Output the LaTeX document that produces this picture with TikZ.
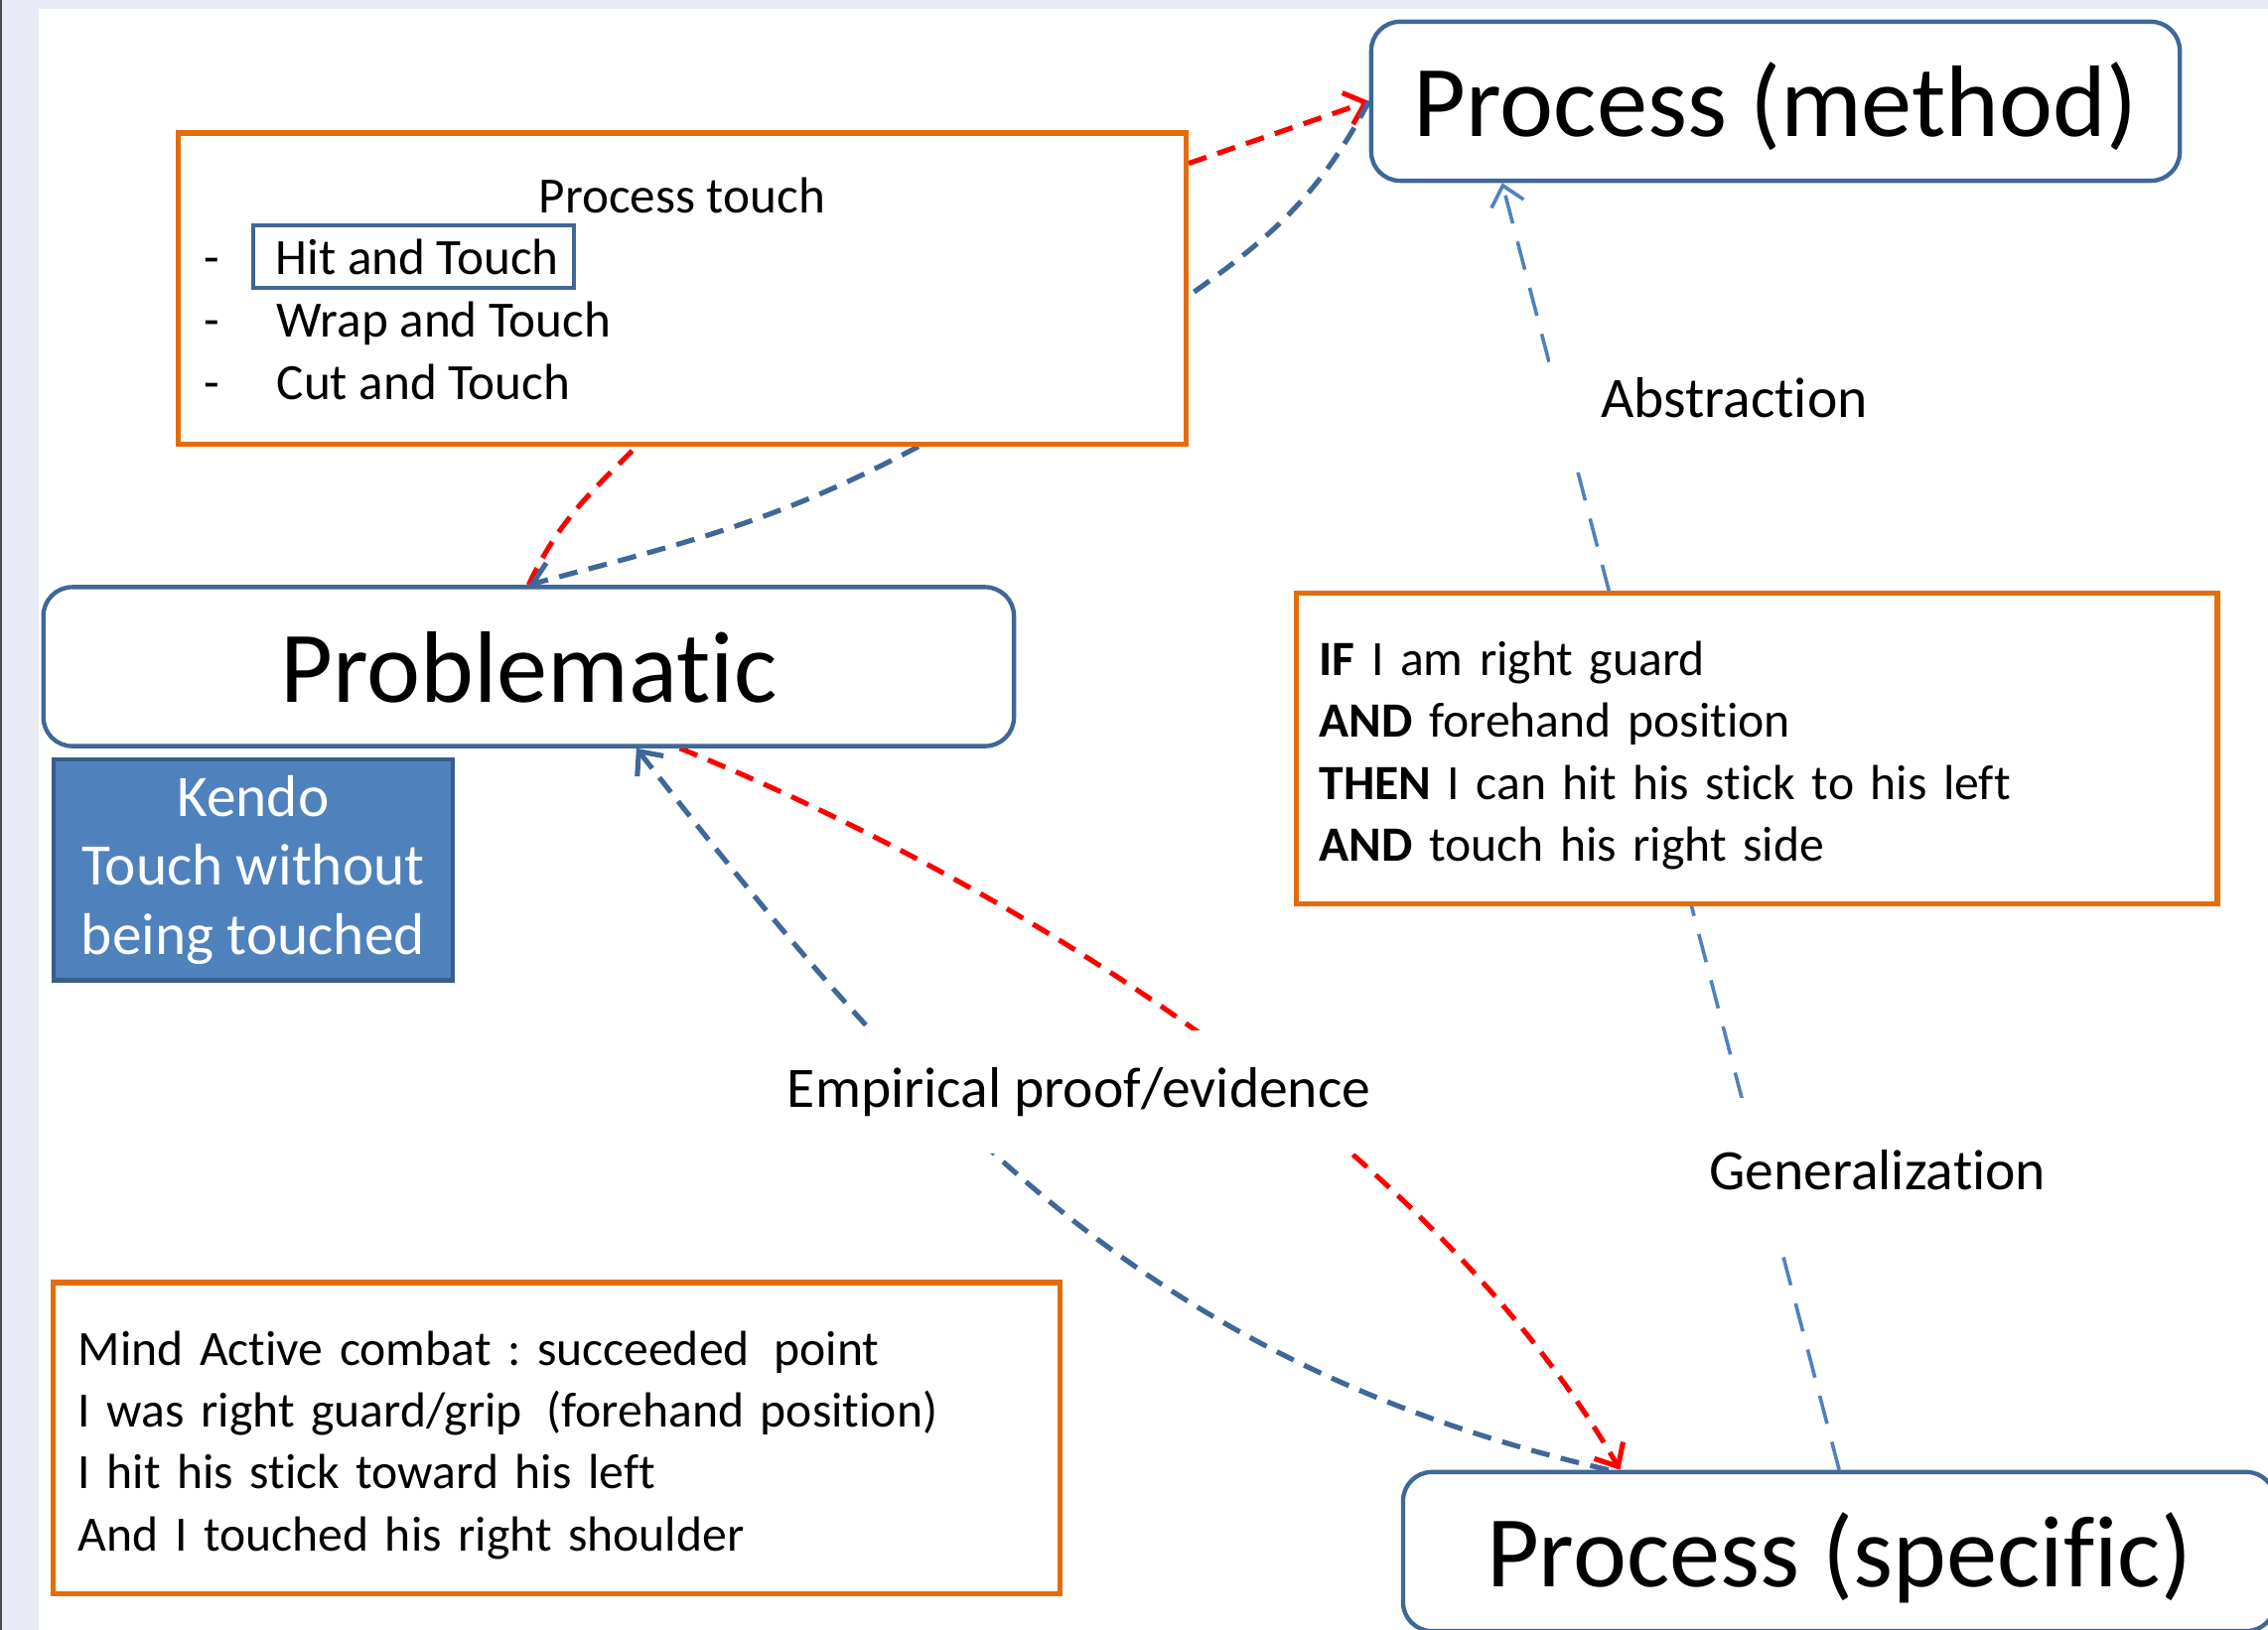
\documentclass[tikz,border=0pt]{standalone}
\usepackage{fontspec}
\setmainfont{Carlito}[Ligatures={NoCommon,NoRequired,NoContextual},Contextuals={NoAlternate}]
\usetikzlibrary{arrows.meta}
\definecolor{pageback}{RGB}{232,235,245}
\definecolor{boxorange}{RGB}{228,108,10}
\definecolor{boxblue}{RGB}{63,103,151}
\definecolor{kendoblue}{RGB}{79,129,189}
\definecolor{kendoline}{RGB}{56,93,138}
\pgfdeclarelayer{backdrop}
\pgfdeclarelayer{lines}
\pgfsetlayers{backdrop,lines,main}

\begin{document}
\begin{tikzpicture}[x=0.2mm, y=-0.2mm,
  >={Straight Barb[length=2.6mm,width=4.6mm]},
  bigbox/.style={draw=boxblue, line width=1.7pt, rounded corners=4mm, fill=white,
    minimum height=22mm, text height=29pt, text depth=1pt,
    font=\fontsize{40}{48}\selectfont},
  notebox/.style={draw=boxorange, line width=2pt, fill=white, align=left,
    inner xsep=3.2mm, minimum height=43mm, font=\fontsize{19.4}{24.4}\selectfont\frenchspacing},
  item/.style={anchor=base west, inner sep=0pt, font=\fontsize{20}{24.4}\selectfont},
  tag/.style={fill=white, inner xsep=7mm, minimum height=17mm,
    font=\fontsize{22.5}{27}\selectfont},
  redlink/.style={draw=red, line width=2pt, dash pattern=on 2.6mm off 1.6mm},
  bluelink/.style={draw=boxblue, line width=2pt, dash pattern=on 2.6mm off 1.6mm},
  thinlink/.style={draw=kendoblue, line width=1.4pt, dash pattern=on 4mm off 2.6mm}]
\useasboundingbox (0,0) rectangle (1568,1127);
\clip (0,0) rectangle (1568,1127);
% page
\begin{pgfonlayer}{backdrop}
\fill[pageback] (0,0) rectangle (1568,1127);
\fill[white] (27,6) rectangle (1568,1127);
\draw[gray!60!black, line width=0.4mm] (0.5,0) -- (0.5,1127);
\end{pgfonlayer}

% main boxes
\node[bigbox, minimum width=111.8mm] (method) at (1227.5,70) {Process (method)};
\node[bigbox, minimum width=134.2mm] (prob) at (365.5,461) {Problemat\kern0pt ic};
\node[bigbox, minimum width=120.6mm] (spec) at (1271.5,1073) {Process (speci\kern0pt f\kern0pt ic)};
\node[draw=kendoline, line width=1.7pt, fill=kendoblue, text=white, align=center,
  minimum width=55.2mm, minimum height=30.6mm,
  font=\fontsize{23.2}{27.2}\selectfont] (kendo) at (175,601.5)
  {Kendo\\Touch without\\being touched};

% process touch
\node[notebox, minimum width=139.4mm] (touch) at (471.5,199.5) {};
\node[anchor=base, inner sep=0pt, font=\fontsize{20}{24.4}\selectfont] (ttitle) at (471.5,147) {Process touch};
\node[item] (dasha) at (141,190) {-};
\node[item] (dashb) at (141,233) {-};
\node[item] (dashc) at (141,276) {-};
\node[draw=boxblue, line width=1.7pt, minimum width=44.4mm, minimum height=8.6mm,
  text height=14pt, text depth=0pt, inner ysep=0pt,
  font=\fontsize{20}{24.4}\selectfont] (hit) at (286,177.5) {\hspace{1mm}Hit and Touch};
\node[item] (wrap) at (191,233) {Wrap and Touch};
\node[item] (cut) at (191,276) {Cut and Touch};

% rule and example
\node[notebox, text width=121mm] (rule) at (1214.5,517.5)
  {\rule{0pt}{19pt}\textbf{IF} I am right guard\\
   \textbf{AND} forehand posit\kern0pt ion\\
   \textbf{THEN} I can hit his stick to his left\\
   \textbf{AND} touch his right side};
\node[notebox, text width=132.4mm, inner xsep=3.4mm] (combat) at (385,994.5)
  {\rule{0pt}{19pt}Mind Active combat : succeeded\, point\\
   I was right guard/grip\enspace(forehand posit\kern0pt ion)\\
   I hit his stick toward his left\\
   And I touched his right shoulder};

% labels
\node[tag, minimum height=16mm] (abstr) at (1199,275) {Abstract\kern0pt ion};
\node[tag, minimum height=20mm, inner xsep=4mm] (gener) at (1298,809) {Generalizat\kern0pt ion};
\node[tag, inner xsep=3mm] (empir) at (746,755) {Empirical proof/evidence};

% connectors
\begin{pgfonlayer}{lines}
\draw[thinlink, ->] (spec.north) -- ([xshift=18.4mm]method.south west);
\draw[redlink, ->] ([yshift=17.3mm]touch.east) -- (method.west);
\draw[bluelink] (method.west) to[out=-118, in=35] ([yshift=-1mm]touch.east);
\draw[redlink] (prob.north) to[out=65, in=-135] ([xshift=-6.3mm]touch.south);
\draw[bluelink, ->] ([xshift=32.7mm]touch.south) to[out=-152, in=15] (prob.north);
\draw[redlink, ->] ([xshift=20.9mm]prob.south) to[out=-22, in=120, looseness=0.8] ([xshift=-30.3mm]spec.north);
\draw[bluelink, ->] ([xshift=-31.9mm]spec.north) to[out=167, in=-52] ([xshift=14.9mm]prob.south);
\end{pgfonlayer}
\end{tikzpicture}
\end{document}
